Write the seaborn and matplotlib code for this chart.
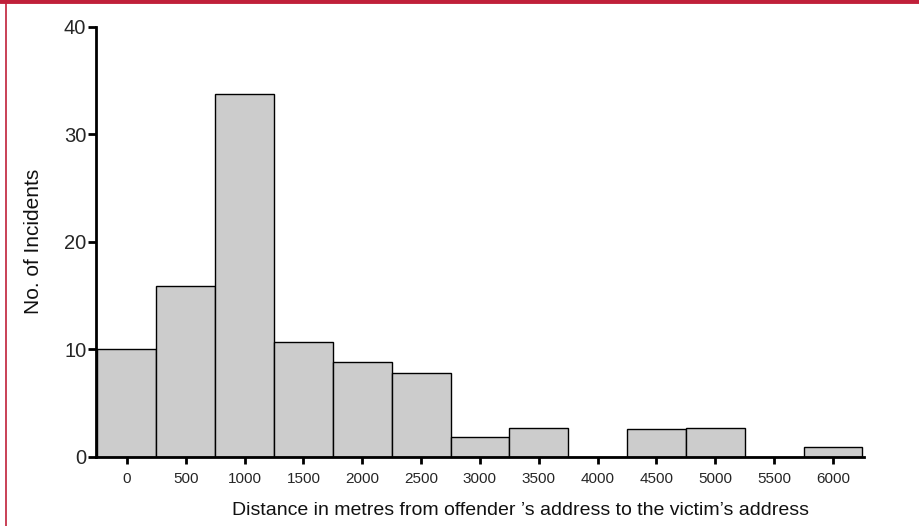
import matplotlib
matplotlib.use("Agg")
import matplotlib.pyplot as plt
import numpy as np
import pandas as pd
import seaborn as sns

# Distance bands (bin centres, metres) and number of incidents in each band
distance_bins = [0, 500, 1000, 1500, 2000, 2500, 3000, 3500, 4000, 4500, 5000, 5500, 6000]
incidents = [10.0, 15.9, 33.7, 10.7, 8.8, 7.85, 1.9, 2.67, 0.0, 2.64, 2.73, 0.0, 0.93]
x_ticks = distance_bins
y_ticks = [0, 10, 20, 30, 40]

df = pd.DataFrame({"distance": distance_bins, "count": incidents})

sns.set_theme(style="white")
plt.rcParams["font.family"] = ["Liberation Sans", "DejaVu Sans"]

fig = plt.figure(figsize=(9.19, 5.26), dpi=100)
ax = fig.add_axes([0.1045, 0.1312, 0.8355, 0.8180])

sns.histplot(data=df, x="distance", weights="count", binwidth=500,
             binrange=(-250, 6250), color="#cccccc", alpha=1.0,
             edgecolor="black", linewidth=1.0, ax=ax)

ax.set_xlim(-262, 6262)
ax.set_ylim(0, 40)
ax.set_xticks(x_ticks)
ax.set_xticklabels([str(t) for t in x_ticks], fontsize=11)
ax.set_yticks(y_ticks)
ax.set_yticklabels([str(t) for t in y_ticks], fontsize=14.5)

for side in ("top", "right"):
    ax.spines[side].set_visible(False)
for side in ("left", "bottom"):
    ax.spines[side].set_visible(True)
    ax.spines[side].set_color("black")
    ax.spines[side].set_linewidth(2.0)

ax.tick_params(axis="x", direction="out", length=5, width=2, color="black",
               pad=6, bottom=True)
ax.tick_params(axis="y", direction="out", length=6, width=2, color="black",
               pad=1, left=True)

ax.set_xlabel("Distance in metres from offender \u2019s address to the victim\u2019s address",
              fontsize=14, color="#111111")
ax.xaxis.set_label_coords(0.553, -0.105)
ax.set_ylabel("No. of Incidents", fontsize=15, labelpad=15, color="#111111")

# red frame lines along the top and left edge of the figure
fig.add_artist(plt.Line2D([0, 1], [0.9975, 0.9975], transform=fig.transFigure,
                          color="#c0203a", linewidth=3.5))
fig.add_artist(plt.Line2D([0.006, 0.006], [0, 1], transform=fig.transFigure,
                          color="#c0203a", linewidth=1.2))

fig.savefig("out.png", dpi=100)
